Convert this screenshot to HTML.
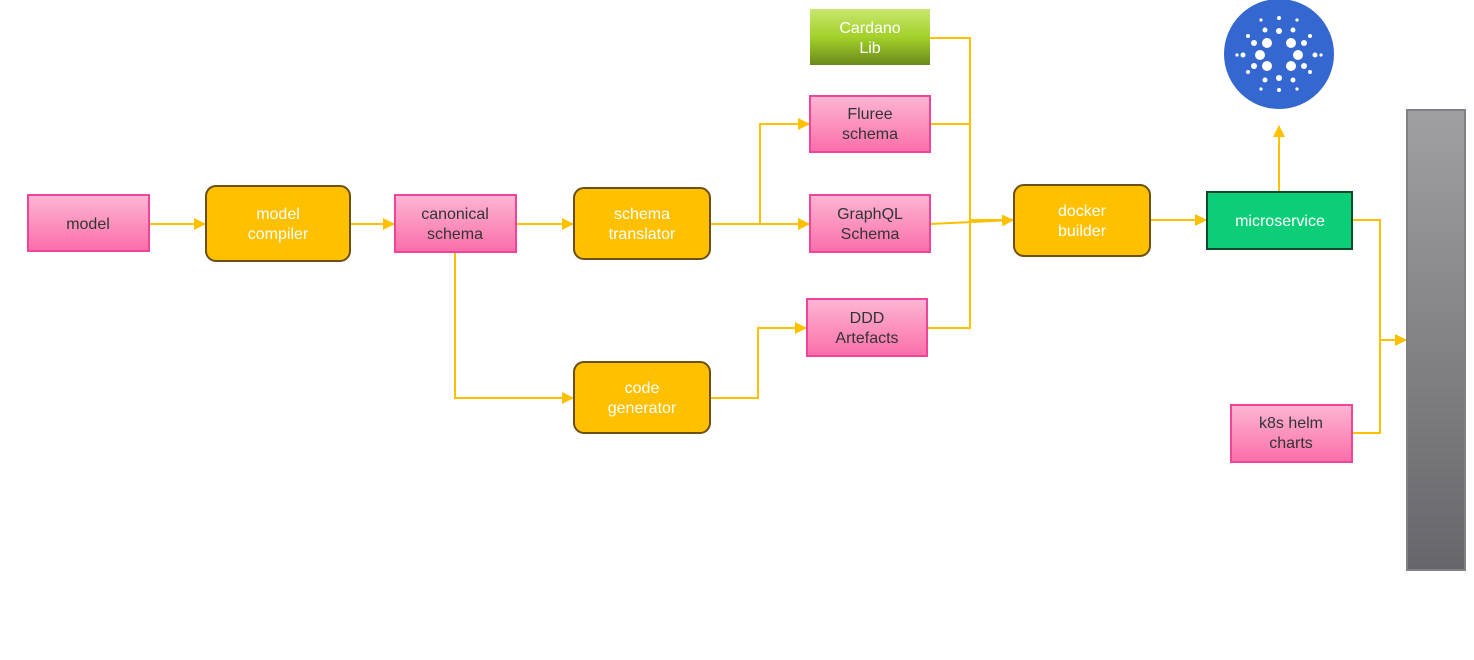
<!DOCTYPE html>
<html><head><meta charset="utf-8"><style>
body{margin:0;background:#fff;width:1474px;height:655px;overflow:hidden}
text{font-family:"Liberation Sans",sans-serif;font-size:16px;text-anchor:middle}
</style></head><body>
<svg width="1474" height="655" viewBox="0 0 1474 655">
<defs>
<linearGradient id="pk" x1="0" y1="0" x2="0" y2="1"><stop offset="0" stop-color="#fdb6d3"/><stop offset="1" stop-color="#fb6ea9"/></linearGradient>
<linearGradient id="gr" x1="0" y1="0" x2="0" y2="1"><stop offset="0" stop-color="#c8e66e"/><stop offset="0.5" stop-color="#a3d12a"/><stop offset="1" stop-color="#6a8a1a"/></linearGradient>
<linearGradient id="gy" x1="0" y1="0" x2="0" y2="1"><stop offset="0" stop-color="#a09fa3"/><stop offset="1" stop-color="#67666b"/></linearGradient>
<marker id="a" markerWidth="12" markerHeight="12" refX="11" refY="6" orient="auto" markerUnits="userSpaceOnUse"><path d="M0,0 L12,6 L0,12 z" fill="#ffc000"/></marker>
</defs>
<g stroke="#ffc000" stroke-width="2" fill="none">
<path d="M149,224 H205" marker-end="url(#a)"/>
<path d="M350,224 H394" marker-end="url(#a)"/>
<path d="M516,224 H573" marker-end="url(#a)"/>
<path d="M710,224 H809" marker-end="url(#a)"/>
<path d="M760,224 V124 H809" marker-end="url(#a)"/>
<path d="M455,252 V398 H573" marker-end="url(#a)"/>
<path d="M710,398 H758 V328 H806" marker-end="url(#a)"/>
<path d="M929,38 H970 V328 H927"/>
<path d="M930,124 H970"/>
<path d="M930,224 L1013,220" marker-end="url(#a)"/>
<path d="M970,220 H1013"/>
<path d="M1150,220 H1206" marker-end="url(#a)"/>
<path d="M1279,192 V126" marker-end="url(#a)"/>
<path d="M1352,220 H1380 V433 H1352"/>
<path d="M1380,340 H1406" marker-end="url(#a)"/>
</g>
<rect x="28" y="195" width="121" height="56" fill="url(#pk)" stroke="#f0439a" stroke-width="2"/>
<text x="88" y="229" fill="#333">model</text>
<rect x="206" y="186" width="144" height="75" rx="10" fill="#ffc000" stroke="#6b5010" stroke-width="2"/>
<text x="278" y="219" fill="#fff">model</text><text x="278" y="239" fill="#fff">compiler</text>
<rect x="395" y="195" width="121" height="57" fill="url(#pk)" stroke="#f0439a" stroke-width="2"/>
<text x="455" y="219" fill="#333">canonical</text><text x="455" y="239" fill="#333">schema</text>
<rect x="574" y="188" width="136" height="71" rx="10" fill="#ffc000" stroke="#6b5010" stroke-width="2"/>
<text x="642" y="219" fill="#fff">schema</text><text x="642" y="239" fill="#fff">translator</text>
<rect x="574" y="362" width="136" height="71" rx="10" fill="#ffc000" stroke="#6b5010" stroke-width="2"/>
<text x="642" y="393" fill="#fff">code</text><text x="642" y="413" fill="#fff">generator</text>
<rect x="810" y="9" width="120" height="56" fill="url(#gr)"/>
<text x="870" y="33" fill="#fff">Cardano</text><text x="870" y="53" fill="#fff">Lib</text>
<rect x="810" y="96" width="120" height="56" fill="url(#pk)" stroke="#f0439a" stroke-width="2"/>
<text x="870" y="119" fill="#333">Fluree</text><text x="870" y="139" fill="#333">schema</text>
<rect x="810" y="195" width="120" height="57" fill="url(#pk)" stroke="#f0439a" stroke-width="2"/>
<text x="870" y="219" fill="#333">GraphQL</text><text x="870" y="239" fill="#333">Schema</text>
<rect x="807" y="299" width="120" height="57" fill="url(#pk)" stroke="#f0439a" stroke-width="2"/>
<text x="867" y="323" fill="#333">DDD</text><text x="867" y="343" fill="#333">Artefacts</text>
<rect x="1014" y="185" width="136" height="71" rx="10" fill="#ffc000" stroke="#6b5010" stroke-width="2"/>
<text x="1082" y="216" fill="#fff">docker</text><text x="1082" y="236" fill="#fff">builder</text>
<rect x="1207" y="192" width="145" height="57" fill="#0ccd78" stroke="#0d4a2a" stroke-width="2"/>
<text x="1280" y="226" fill="#fff">microservice</text>
<rect x="1231" y="405" width="121" height="57" fill="url(#pk)" stroke="#f0439a" stroke-width="2"/>
<text x="1291" y="428" fill="#333">k8s helm</text><text x="1291" y="448" fill="#333">charts</text>
<rect x="1407" y="110" width="58" height="460" fill="url(#gy)" stroke="#808085" stroke-width="2"/>
<circle cx="1279" cy="54" r="55" fill="#3467d0"/>
<g fill="#fff">
<circle cx="1267" cy="43" r="5"/><circle cx="1291" cy="43" r="5"/><circle cx="1260" cy="55" r="5"/><circle cx="1298" cy="55" r="5"/><circle cx="1267" cy="66" r="5"/><circle cx="1291" cy="66" r="5"/>
<circle cx="1279" cy="31" r="3"/><circle cx="1279" cy="78" r="3"/><circle cx="1254" cy="43" r="3"/><circle cx="1304" cy="43" r="3"/><circle cx="1254" cy="66" r="3"/><circle cx="1304" cy="66" r="3"/><circle cx="1243" cy="55" r="2.5"/><circle cx="1315" cy="55" r="2.5"/>
<circle cx="1265" cy="30" r="2.5"/><circle cx="1293" cy="30" r="2.5"/><circle cx="1265" cy="80" r="2.5"/><circle cx="1293" cy="80" r="2.5"/>
<circle cx="1279" cy="18" r="2"/><circle cx="1279" cy="90" r="2"/><circle cx="1248" cy="36" r="2"/><circle cx="1310" cy="36" r="2"/><circle cx="1248" cy="72" r="2"/><circle cx="1310" cy="72" r="2"/><circle cx="1261" cy="20" r="1.6"/><circle cx="1297" cy="20" r="1.6"/><circle cx="1261" cy="89" r="1.6"/><circle cx="1297" cy="89" r="1.6"/><circle cx="1237" cy="55" r="1.6"/><circle cx="1321" cy="55" r="1.6"/>
</g>
</svg>
</body></html>
